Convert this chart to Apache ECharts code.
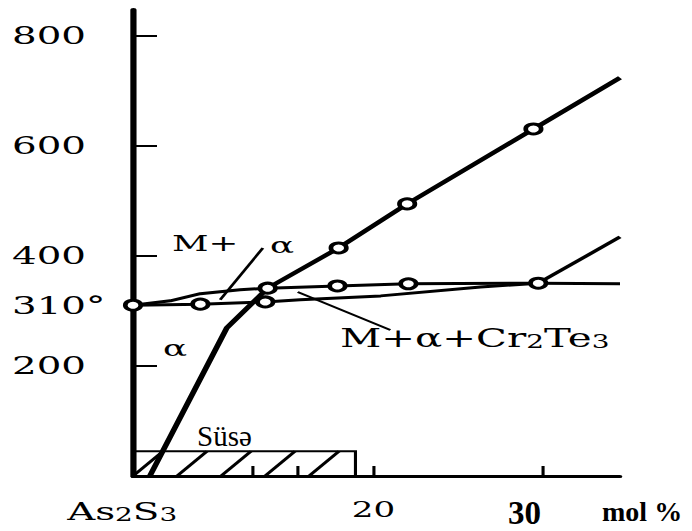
<!DOCTYPE html>
<html>
<head>
<meta charset="utf-8">
<script src="https://cdn.jsdelivr.net/npm/echarts@6/dist/echarts.min.js"></script>
<style>
  html, body { margin: 0; padding: 0; background: #fff; }
  #wrap { width: 692px; height: 531px; overflow: hidden; position: relative; }
  /* the printed diagram is horizontally extended; draw at 446px and stretch to 692px */
  #chart { width: 446px; height: 531px; transform: scaleX(1.5516); transform-origin: 0 0; }
</style>
</head>
<body>
<div id="wrap"><div id="chart"></div></div>
<script>
// horizontal stretch factor of the drawing
const S = 692 / 446;
const px = v => v / S;

// axis labels and ticks
const yLabelValues = [200, 310, 400, 600, 800];
const yTickValues = [200, 400, 600, 800];
const xLabelValues = [0, 20];
const xLabelNames = ['{a|As}{s|2}{a|S}{e|3}', '20'];
const xTickValues = [10, 13.7, 20, 34.1];

// curves: [mol %, °C]
const liquidus = [[1.4, 0], [7.8, 269], [11.2, 341], [17.1, 414], [22.8, 494], [33.3, 630], [40.5, 723]];
const upperCurve = [[0, 310], [3.1, 318], [5.6, 331], [8.9, 338], [11.2, 341], [17.0, 345], [22.9, 349], [33.7, 350], [40.5, 349]];
const lowerCurve = [[0, 310], [5.6, 312], [11.0, 316], [13.9, 320], [20.6, 327], [28.9, 343], [33.7, 350]];
const rightBranch = [[33.7, 350], [40.5, 434]];
// measured points (open circles)
const measured = [[0, 310], [5.6, 312], [11.0, 316], [11.2, 341], [17.0, 345], [22.9, 349], [33.7, 350], [17.1, 414], [22.8, 494], [33.3, 630]];
// pointer lines of the phase-field labels
const leaderMA = [[7.25, 320], [10.8, 414]];
const leaderMACr = [[13.7, 334], [21.4, 265]];
// glass-forming region: [x from, x to, T from, T to]
const glassRegion = [[0, 18.5, 0, 45]];

const SERIF = "'DejaVu Serif', serif";
const TIMES = "'Liberation Serif', 'Times New Roman', serif";

const chart = echarts.init(document.getElementById('chart'), null, { renderer: 'svg' });

function lineSeries(data, width) {
  return {
    type: 'line', data: data, showSymbol: false, symbol: 'none', silent: true,
    lineStyle: { color: '#000', width: width }, z: 3, animation: false
  };
}

function renderHatch(params, api) {
  const a = api.coord([api.value(0), api.value(2)]);
  const b = api.coord([api.value(1), api.value(3)]);
  const left = a[0], bottom = a[1], right = b[0], top = b[1];
  const h = bottom - top;
  const step = px(44), run = px(30);
  const children = [];
  for (let xb = left; xb < right - 2; xb += step) {
    let xe = xb + run, ye = top;
    if (xe > right) { ye = bottom - h * (right - xb) / run; xe = right; }
    children.push({ type: 'line', shape: { x1: xb, y1: bottom, x2: xe, y2: ye }, style: { stroke: '#000', lineWidth: 2.4 } });
  }
  children.push({ type: 'rect', shape: { x: left, y: top, width: right - left, height: h }, style: { fill: 'none', stroke: '#000', lineWidth: 2 } });
  return { type: 'group', children: children };
}

// subscript token style for chemical formulas
const sub = size => ({ fontFamily: SERIF, fontSize: size, color: '#000', lineHeight: 10, verticalAlign: 'bottom' });

const option = {
  backgroundColor: '#fff',
  animation: false,
  grid: { left: px(133), right: 446 - px(620), top: 10, bottom: 55 },
  xAxis: {
    type: 'value', min: 0, max: 40.5,
    splitLine: { show: false },
    axisLine: { show: true, onZero: false, lineStyle: { color: '#000', width: 3 } },
    axisTick: { show: true, inside: true, length: 10, customValues: xTickValues, lineStyle: { color: '#000', width: 2 } },
    axisLabel: {
      customValues: xLabelValues,
      margin: 22,
      color: '#000', fontFamily: SERIF, fontSize: 22,
      formatter: v => {
        const i = xLabelValues.indexOf(v);
        return i >= 0 ? xLabelNames[i] : '';
      },
      rich: {
        a: { fontFamily: SERIF, fontSize: 25, color: '#000', lineHeight: 26, verticalAlign: 'bottom' },
        s: sub(18),
        e: Object.assign(sub(18), { padding: [0, 14, 0, 0] })
      }
    }
  },
  yAxis: {
    type: 'value', min: 0, max: 846,
    splitLine: { show: false },
    axisLine: { show: true, onZero: false, lineStyle: { color: '#000', width: 4 } },
    axisTick: { show: true, inside: true, length: px(24), customValues: yTickValues, lineStyle: { color: '#000', width: 2 } },
    axisLabel: {
      customValues: yLabelValues,
      align: 'left', margin: px(133 - 12),
      color: '#000', fontFamily: SERIF, fontSize: 25,
      formatter: v => (v === 310 ? '310°' : String(v))
    }
  },
  series: [
    {
      type: 'custom', renderItem: renderHatch, data: glassRegion, silent: true,
      encode: { x: [0, 1], y: [2, 3] }, z: 1
    },
    lineSeries(liquidus, 3.8),
    lineSeries(upperCurve, 3),
    lineSeries(lowerCurve, 3),
    lineSeries(rightBranch, 3),
    lineSeries(leaderMA, 2),
    lineSeries(leaderMACr, 2),
    {
      type: 'scatter', data: measured, symbol: 'circle', symbolSize: 10, silent: true, z: 5,
      itemStyle: { color: '#fff', borderColor: '#000', borderWidth: 3, opacity: 1 }
    }
  ],
  graphic: [
    { type: 'text', x: px(172), y: 243, style: { text: 'M+', font: '23px ' + SERIF, fill: '#000', align: 'left', verticalAlign: 'middle' } },
    { type: 'text', x: px(270), y: 245, style: { text: 'α', font: '23px ' + SERIF, fill: '#000', align: 'left', verticalAlign: 'middle' } },
    { type: 'text', x: px(163), y: 348, style: { text: 'α', font: '23px ' + SERIF, fill: '#000', align: 'left', verticalAlign: 'middle' } },
    {
      type: 'text', x: px(340), y: 325,
      style: {
        text: '{n|M+α+Cr}{s|2}{n|Te}{s|3}', fill: '#000', align: 'left', verticalAlign: 'top',
        rich: {
          n: { fontFamily: SERIF, fontSize: 26, color: '#000', lineHeight: 26, verticalAlign: 'bottom' },
          s: sub(18)
        }
      }
    },
    { type: 'text', x: px(197), y: 436, scaleX: 1 / S, style: { text: 'Süsə', font: '29px ' + TIMES, fill: '#000', align: 'left', verticalAlign: 'middle' } },
    { type: 'text', x: px(508), y: 513, scaleX: 1 / S, style: { text: '30', font: 'bold 33px ' + TIMES, fill: '#000', align: 'left', verticalAlign: 'middle' } },
    { type: 'text', x: px(602), y: 512, scaleX: 1 / S, style: { text: 'mol %', font: 'bold 28px ' + TIMES, fill: '#000', align: 'left', verticalAlign: 'middle' } }
  ]
};

chart.setOption(option);
</script>
</body>
</html>
